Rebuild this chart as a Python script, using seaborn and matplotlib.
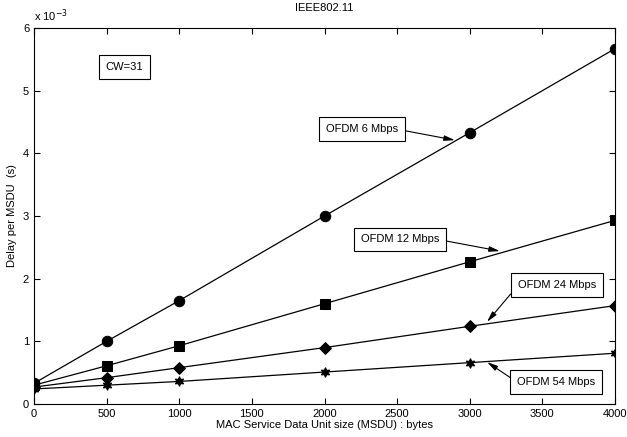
import numpy as np
import pandas as pd
import matplotlib
matplotlib.use("Agg")
import matplotlib.pyplot as plt
import seaborn as sns

# data (delay in ms, converted to s below)
msdu_size = [0, 500, 1000, 2000, 3000, 4000]
delay_6 = [0.33, 1.00, 1.65, 3.00, 4.33, 5.67]
delay_12 = [0.30, 0.61, 0.93, 1.60, 2.27, 2.93]
delay_24 = [0.27, 0.42, 0.58, 0.90, 1.24, 1.57]
delay_54 = [0.24, 0.30, 0.36, 0.51, 0.66, 0.81]
series_names = ["OFDM 6 Mbps", "OFDM 12 Mbps", "OFDM 24 Mbps", "OFDM 54 Mbps"]
xticks = [0, 500, 1000, 1500, 2000, 2500, 3000, 3500, 4000]
yticks = [0, 1, 2, 3, 4, 5, 6]

sns.set_style("ticks", {"xtick.direction": "in", "ytick.direction": "in",
                        "text.color": "black", "axes.labelcolor": "black",
                        "xtick.color": "black", "ytick.color": "black",
                        "axes.edgecolor": "black"})
plt.rcParams["font.family"] = ["Liberation Sans", "DejaVu Sans"]
plt.rcParams["font.size"] = 8

df = pd.DataFrame({
    "size": msdu_size * 4,
    "delay": np.concatenate([delay_6, delay_12, delay_24, delay_54]) * 1e-3,
    "rate": np.repeat(series_names, len(msdu_size)),
})

fig = plt.figure(figsize=(6.27, 4.37), dpi=100)
ax = fig.add_axes([34 / 627, 1 - 404 / 437, (615 - 34) / 627, (404 - 28) / 437])

markers = {"OFDM 6 Mbps": "o", "OFDM 12 Mbps": "s", "OFDM 24 Mbps": (4, 0, 0), "OFDM 54 Mbps": (6, 1, 0)}
sizes = {"OFDM 6 Mbps": 7.5, "OFDM 12 Mbps": 7, "OFDM 24 Mbps": 8.5, "OFDM 54 Mbps": 7}
for name in series_names:
    sub = df[df["rate"] == name]
    sns.lineplot(data=sub, x="size", y="delay", ax=ax, color="black", lw=0.9,
                 marker=markers[name], markersize=sizes[name], markeredgecolor="black",
                 markerfacecolor="black", legend=False)

ax.set_xlim(0, 4000)
ax.set_ylim(0, 6e-3)
ax.set_xticks(xticks)
ax.set_yticks(np.array(yticks) * 1e-3)
ax.set_yticklabels([str(v) for v in yticks])
ax.tick_params(top=True, right=True, length=4, width=0.8, labelsize=8)
for s in ax.spines.values():
    s.set_linewidth(0.8)
    s.set_visible(True)

ax.set_xlabel("MAC Service Data Unit size (MSDU) : bytes", fontsize=8, labelpad=1)
ax.set_ylabel("Delay per MSDU  (s)", fontsize=8, labelpad=4)
ax.set_title("IEEE802.11", fontsize=8, pad=12)
ax.text(0.0, 1.01, r"x 10$^{-3}$", transform=ax.transAxes, fontsize=8, va="bottom", ha="left")

box = dict(boxstyle="square,pad=0.6", fc="white", ec="black", lw=0.8)


def arrow(rel):
    return dict(arrowstyle="-|>,head_length=0.8,head_width=0.2", color="black", lw=0.8,
                shrinkA=0, shrinkB=0, relpos=rel)


ax.text(620, 5.38e-3, "CW=31", ha="center", va="center", bbox=box)
ax.annotate("OFDM 6 Mbps", xy=(2898, 4.21e-3), xytext=(2258, 4.39e-3),
            ha="center", va="center", bbox=box, arrowprops=arrow((1.0, 0.45)))
ax.annotate("OFDM 12 Mbps", xy=(3208, 2.44e-3), xytext=(2520, 2.63e-3),
            ha="center", va="center", bbox=box, arrowprops=arrow((1.0, 0.45)))
ax.annotate("OFDM 24 Mbps", xy=(3119, 1.31e-3), xytext=(3601, 1.90e-3),
            ha="center", va="center", bbox=box, arrowprops=arrow((0.0, 0.45)))
ax.annotate("OFDM 54 Mbps", xy=(3119, 0.67e-3), xytext=(3594, 0.35e-3),
            ha="center", va="center", bbox=box, arrowprops=arrow((0.0, 0.5)))

fig.savefig("out.png", dpi=100)
